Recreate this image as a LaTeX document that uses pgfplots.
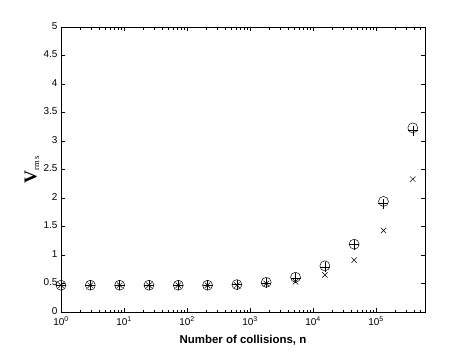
\documentclass[border=0pt]{standalone}
\usepackage{fontspec}
\setmainfont{Liberation Sans}
\newfontfamily\serif{Liberation Serif}
\usepackage{pgfplots}
\pgfplotsset{compat=1.18}

\begin{document}
\begin{tikzpicture}
  \begin{axis}[
      scale only axis,
      width=364bp, height=285bp,
      xmode=log,
      xmin=1, xmax=6e5,
      ymin=0, ymax=5,
      ytick={0,0.5,...,5},
      xtick={1,10,100,1000,10000,100000},
      xticklabels={10\textsuperscript{0},10\textsuperscript{1},10\textsuperscript{2},
                   10\textsuperscript{3},10\textsuperscript{4},10\textsuperscript{5}},
      minor xtick={2,3,4,5,6,7,8,9,20,30,40,50,60,70,80,90,
                   200,300,400,500,600,700,800,900,2000,3000,4000,5000,6000,7000,8000,9000,
                   20000,30000,40000,50000,60000,70000,80000,90000,200000,300000,400000,500000},
      tick align=inside,
      major tick length=4bp, minor tick length=2.5bp,
      /pgf/number format/assume math mode=true,
      tick label style={font=\fontsize{10}{12}\selectfont},
      xticklabel style={yshift=-1.5bp},
      yticklabel style={yshift=1bp},
      xlabel={\bfseries Number of collisions, n},
      xlabel style={at={(axis description cs:0.5,-0.1)}, anchor=center,
                    font=\fontsize{11.5}{13}\selectfont},
      ylabel={{\serif\bfseries\fontsize{18}{19}\selectfont V}\raisebox{-0.5ex}{\serif\fontsize{8.5}{9}\selectfont rm\,s}},
      ylabel style={at={(axis description cs:-0.08,0.5)}, anchor=center},
      axis line style={line width=0.6pt},
      every tick/.style={black, line width=0.4pt},
    ]

    % circles
    \addplot[only marks, mark=o, mark size=5bp, mark options={line width=0.5pt}]
      coordinates {(1,0.47) (2.92,0.47) (8.53,0.47) (24.9,0.47) (72.7,0.47)
                   (212,0.47) (620,0.48) (1810,0.52) (5285,0.61) (15430,0.81)
                   (45060,1.19) (131600,1.94) (384300,3.23)};

    % plus
    \addplot[only marks, mark=+, mark size=5bp, mark options={line width=0.5pt}]
      coordinates {(1,0.47) (2.92,0.47) (8.53,0.47) (24.9,0.47) (72.7,0.47)
                   (212,0.47) (620,0.48) (1810,0.51) (5285,0.59) (15430,0.79)
                   (45060,1.18) (131600,1.90) (384300,3.18)};

    % crosses
    \addplot[only marks, mark=x, mark size=3.8bp, mark options={line width=0.5pt}]
      coordinates {(1,0.47) (2.92,0.47) (8.53,0.47) (24.9,0.47) (72.7,0.47)
                   (212,0.47) (620,0.47) (1810,0.50) (5285,0.53) (15430,0.65)
                   (45060,0.91) (131600,1.43) (384300,2.33)};
  \end{axis}
  \path ([xshift=-61bp,yshift=-40bp]current axis.south west)
        rectangle ([xshift=44bp,yshift=27bp]current axis.north east);
\end{tikzpicture}
\end{document}
